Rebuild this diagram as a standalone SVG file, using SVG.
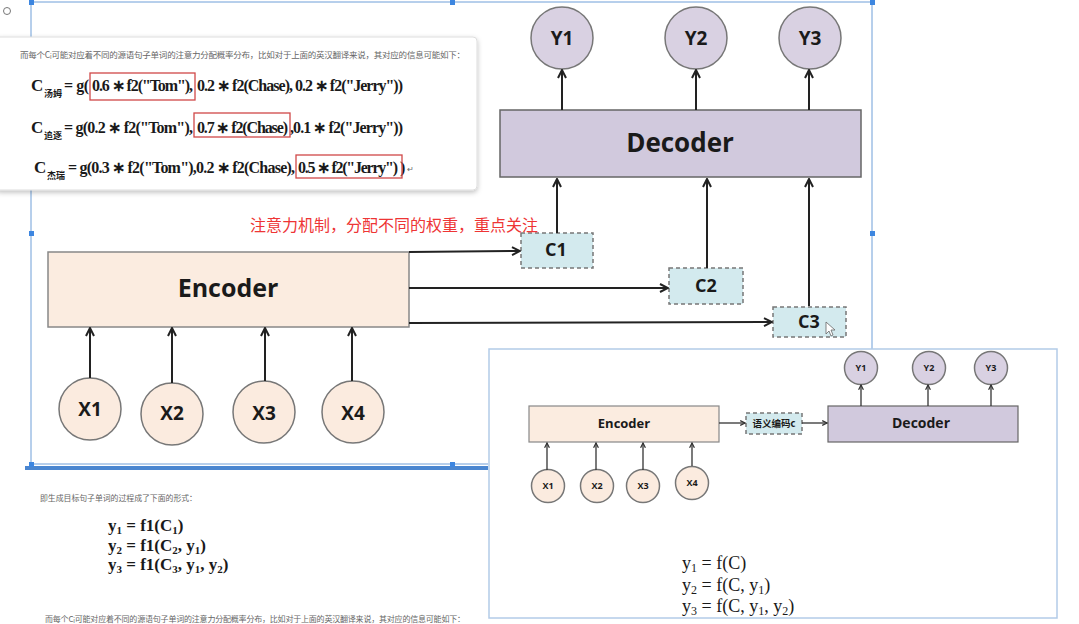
<svg xmlns="http://www.w3.org/2000/svg" width="1079" height="624" viewBox="0 0 1079 624">
<style>
.lbl{font-family:"Open Sans","Noto Sans",sans-serif;font-weight:bold;fill:#1a1a1a;text-anchor:middle}
.cjk{font-family:"Noto Sans CJK SC",sans-serif}
.note{font-family:"Noto Sans CJK SC",sans-serif;fill:#666}
.fm{font-family:"Liberation Serif","Noto Sans CJK SC",serif;font-weight:bold;fill:#1a1a1a}
.fr{font-family:"Liberation Serif","Noto Sans CJK SC",serif;fill:#1a1a1a}
.ycirc{fill:#d9d1e2;stroke:#777;stroke-width:1.5}
.xcirc{fill:#fbebdf;stroke:#777;stroke-width:1.5}
.cbox{fill:#d3eaee;stroke:#777;stroke-width:1.5;stroke-dasharray:4 3}
.conn{stroke:#222;stroke-width:2;fill:none;marker-end:url(#ah)}
.sconn{stroke:#333;stroke-width:1.3;fill:none;marker-end:url(#ahs)}
.red{fill:none;stroke:#d04848;stroke-width:1.3}
.sel{stroke:#6f9fd8;stroke-width:1;fill:none}
.hdl{fill:#3d86e0}
</style>
<defs>
<marker id="ah" viewBox="0 0 10 10" refX="9" refY="5" markerWidth="10" markerHeight="10" markerUnits="userSpaceOnUse" orient="auto">
<path d="M1,1 L9,5 L1,9" fill="none" stroke="#222" stroke-width="2"/>
</marker>
<marker id="ahs" viewBox="0 0 10 10" refX="9" refY="5" markerWidth="6" markerHeight="6" markerUnits="userSpaceOnUse" orient="auto">
<path d="M1,1 L9,5 L1,9" fill="none" stroke="#333" stroke-width="2"/>
</marker>
<filter id="sh" x="-5%" y="-10%" width="110%" height="125%">
<feDropShadow dx="0" dy="2" stdDeviation="2.5" flood-color="#000" flood-opacity="0.25"/>
</filter>
</defs>
<rect width="1079" height="624" fill="#ffffff"/>
<circle cx="7" cy="11" r="3.5" fill="none" stroke="#777" stroke-width="1"/>

<!-- selection frame -->
<g id="selection">
<path class="sel" d="M31,2 L872,2 L872,349 M31,2 L31,464 L488,464"/>
<rect x="25" y="466" width="463" height="4" fill="#4a86d0"/>
<rect class="hdl" x="29" y="0" width="5" height="5"/>
<rect class="hdl" x="450" y="0" width="5" height="5"/>
<rect class="hdl" x="870" y="0" width="5" height="5"/>
<rect class="hdl" x="29" y="231" width="5" height="5"/>
<rect class="hdl" x="870" y="231" width="5" height="5"/>
<rect class="hdl" x="29" y="462" width="5" height="5"/>
<rect class="hdl" x="450" y="462" width="5" height="5"/>
</g>

<!-- main diagram nodes -->
<g id="Y1"><circle class="ycirc" cx="562" cy="38" r="31"/><text class="lbl" x="562" y="45" font-size="19">Y1</text></g>
<g id="Y2"><circle class="ycirc" cx="696" cy="38" r="31"/><text class="lbl" x="696" y="45" font-size="19">Y2</text></g>
<g id="Y3"><circle class="ycirc" cx="810" cy="38" r="31"/><text class="lbl" x="810" y="45" font-size="19">Y3</text></g>
<g id="Decoder"><rect x="500" y="110" width="361" height="67" fill="#d1c9dd" stroke="#666" stroke-width="1.5"/><text class="lbl" x="680" y="152" font-size="26">Decoder</text></g>
<g id="Encoder"><rect x="48" y="252" width="361" height="75" fill="#fbece0" stroke="#888" stroke-width="1.5"/><text class="lbl" x="228" y="297" font-size="25">Encoder</text></g>
<g id="C1"><rect class="cbox" x="521" y="233" width="72" height="35"/><text class="lbl" x="556" y="256" font-size="18">C1</text></g>
<g id="C2"><rect class="cbox" x="669" y="268" width="74" height="36"/><text class="lbl" x="706" y="292" font-size="18">C2</text></g>
<g id="C3"><rect class="cbox" x="773" y="307" width="73" height="30"/><text class="lbl" x="809" y="328" font-size="18">C3</text>
<path d="M826,322 L826,334 L829,331 L831,336 L833,335 L831,330 L835,330 Z" fill="#fff" stroke="#666" stroke-width="0.8"/></g>
<g id="X1"><circle class="xcirc" cx="90" cy="409" r="31"/><text class="lbl" x="90" y="416" font-size="19">X1</text></g>
<g id="X2"><circle class="xcirc" cx="172" cy="414" r="31"/><text class="lbl" x="172" y="420" font-size="19">X2</text></g>
<g id="X3"><circle class="xcirc" cx="264" cy="412" r="31"/><text class="lbl" x="264" y="420" font-size="19">X3</text></g>
<g id="X4"><circle class="xcirc" cx="353" cy="412" r="31"/><text class="lbl" x="353" y="420" font-size="19">X4</text></g>

<g id="connectors">
<path class="conn" d="M90,378 L90,328"/>
<path class="conn" d="M172,383 L172,328"/>
<path class="conn" d="M265,381 L265,328"/>
<path class="conn" d="M352,381 L352,328"/>
<path class="conn" d="M409,252 L520,251"/>
<path class="conn" d="M409,288 L668,288"/>
<path class="conn" d="M409,323 L772,322"/>
<path class="conn" d="M557,233 L557,179"/>
<path class="conn" d="M707,268 L707,179"/>
<path class="conn" d="M809,306 L809,179"/>
<path class="conn" d="M562,110 L562,70"/>
<path class="conn" d="M696,110 L696,70"/>
<path class="conn" d="M809,110 L809,70"/>
</g>

<text class="cjk" x="250" y="231" font-size="16" fill="#ee3535" textLength="288">注意力机制，分配不同的权重，重点关注</text>

<!-- top-left formula card -->
<g id="formula-card">
<rect x="-4" y="37" width="481" height="153" rx="4" fill="#fff" stroke="#ddd" stroke-width="1" filter="url(#sh)"/>
<text class="note" x="20" y="58" font-size="8.5" textLength="445">而每个C<tspan font-size="6" dy="1">i</tspan><tspan dy="-1">可能对应着不同的源语句子单词的注意力分配概率分布，比如对于上面的英汉翻译来说，其对应的信息可能如下：</tspan></text>
<text class="fm" x="31" y="91" font-size="17">C</text><text class="fm" x="44" y="97" font-size="9">汤姆</text>
<text class="fm" x="64" y="91" font-size="16" textLength="25">= g(</text>
<text class="fm" x="92" y="91" font-size="16" textLength="101">0.6 ∗ f2("Tom"),</text>
<text class="fm" x="197" y="91" font-size="16" textLength="96">0.2 ∗ f2(Chase),</text>
<text class="fm" x="295" y="91" font-size="16" textLength="108">0.2 ∗ f2("Jerry"))</text>
<rect class="red" x="90" y="73" width="105" height="27"/>

<text class="fm" x="31" y="133" font-size="17">C</text><text class="fm" x="44" y="139" font-size="9">追逐</text>
<text class="fm" x="64" y="133" font-size="16" textLength="129">= g(0.2 ∗ f2("Tom"),</text>
<text class="fm" x="197" y="133" font-size="16" textLength="91">0.7 ∗ f2(Chase)</text>
<text class="fm" x="290" y="133" font-size="16" textLength="113">,0.1 ∗ f2("Jerry"))</text>
<rect class="red" x="194" y="113" width="96" height="24"/>

<text class="fm" x="34" y="173" font-size="17">C</text><text class="fm" x="47" y="179" font-size="9">杰瑞</text>
<text class="fm" x="68" y="173" font-size="16" textLength="227">= g(0.3 ∗ f2("Tom"),0.2 ∗ f2(Chase),</text>
<text class="fm" x="298" y="173" font-size="16" textLength="100">0.5 ∗ f2("Jerry")</text>
<text class="fm" x="400" y="173" font-size="16">)</text>
<rect class="red" x="296" y="155" width="106" height="23"/>
<text class="note" x="407" y="172" font-size="8">↵</text>
</g>

<!-- lower-left text -->
<g id="lower-left">
<text class="note" x="40" y="501" font-size="7.9" textLength="157">即生成目标句子单词的过程成了下面的形式：</text>
<text class="fm" x="108" y="531" font-size="17">y<tspan font-size="11" dy="3">1</tspan><tspan dy="-3"> = f1(C</tspan><tspan font-size="11" dy="3">1</tspan><tspan dy="-3">)</tspan></text>
<text class="fm" x="108" y="551" font-size="17">y<tspan font-size="11" dy="3">2</tspan><tspan dy="-3"> = f1(C</tspan><tspan font-size="11" dy="3">2</tspan><tspan dy="-3">, y</tspan><tspan font-size="11" dy="3">1</tspan><tspan dy="-3">)</tspan></text>
<text class="fm" x="108" y="570" font-size="17">y<tspan font-size="11" dy="3">3</tspan><tspan dy="-3"> = f1(C</tspan><tspan font-size="11" dy="3">3</tspan><tspan dy="-3">, y</tspan><tspan font-size="11" dy="3">1</tspan><tspan dy="-3">, y</tspan><tspan font-size="11" dy="3">2</tspan><tspan dy="-3">)</tspan></text>
<text class="note" x="45" y="622" font-size="8" textLength="420">而每个C<tspan font-size="6" dy="1">i</tspan><tspan dy="-1">可能对应着不同的源语句子单词的注意力分配概率分布，比如对于上面的英汉翻译来说，其对应的信息可能如下：</tspan></text>
</g>

<!-- lower-right panel -->
<g id="panel">
<rect x="489" y="349" width="568" height="269" fill="#fff" stroke="#b3cbe8" stroke-width="1.5"/>
</g>
<g id="sY1"><circle class="ycirc" cx="861" cy="368" r="16.5" stroke-width="1"/><text class="lbl" x="861" y="371" font-size="9">Y1</text></g>
<g id="sY2"><circle class="ycirc" cx="929" cy="368" r="16.5" stroke-width="1"/><text class="lbl" x="929" y="371" font-size="9">Y2</text></g>
<g id="sY3"><circle class="ycirc" cx="991" cy="368" r="16.5" stroke-width="1"/><text class="lbl" x="991" y="371" font-size="9">Y3</text></g>
<g id="sEncoder"><rect x="529" y="406" width="190" height="36" fill="#fbece0" stroke="#888" stroke-width="1.2"/><text class="lbl" x="624" y="428" font-size="13">Encoder</text></g>
<g id="sC"><rect class="cbox" x="746" y="413" width="56" height="21" stroke-width="1" stroke-dasharray="3 2"/><text class="lbl cjk" x="774" y="427" font-size="9.5">语义编码c</text></g>
<g id="sDecoder"><rect x="828" y="406" width="190" height="36" fill="#d1c9dd" stroke="#666" stroke-width="1.2"/><text class="lbl" x="921" y="428" font-size="14">Decoder</text></g>
<g id="sX1"><circle class="xcirc" cx="548" cy="486" r="16.5" stroke-width="1"/><text class="lbl" x="548" y="489" font-size="9">X1</text></g>
<g id="sX2"><circle class="xcirc" cx="597" cy="486" r="16.5" stroke-width="1"/><text class="lbl" x="597" y="489" font-size="9">X2</text></g>
<g id="sX3"><circle class="xcirc" cx="643" cy="486" r="16.5" stroke-width="1"/><text class="lbl" x="643" y="489" font-size="9">X3</text></g>
<g id="sX4"><circle class="xcirc" cx="692" cy="483" r="16.5" stroke-width="1"/><text class="lbl" x="692" y="486" font-size="9">X4</text></g>
<g id="small-connectors">
<path class="sconn" d="M547,470 L547,443"/>
<path class="sconn" d="M596,470 L596,443"/>
<path class="sconn" d="M643,470 L643,443"/>
<path class="sconn" d="M692,466 L692,443"/>
<path class="sconn" d="M719,423 L745,423"/>
<path class="sconn" d="M802,423 L827,423"/>
<path class="sconn" d="M861,406 L861,385"/>
<path class="sconn" d="M928,406 L928,385"/>
<path class="sconn" d="M991,406 L991,385"/>
</g>
<g id="right-formulas">
<text class="fr" x="682" y="569" font-size="18">y<tspan font-size="12" dy="3">1</tspan><tspan dy="-3"> = f(C)</tspan></text>
<text class="fr" x="682" y="591" font-size="18">y<tspan font-size="12" dy="3">2</tspan><tspan dy="-3"> = f(C, y</tspan><tspan font-size="12" dy="3">1</tspan><tspan dy="-3">)</tspan></text>
<text class="fr" x="682" y="612" font-size="18">y<tspan font-size="12" dy="3">3</tspan><tspan dy="-3"> = f(C, y</tspan><tspan font-size="12" dy="3">1</tspan><tspan dy="-3">, y</tspan><tspan font-size="12" dy="3">2</tspan><tspan dy="-3">)</tspan></text>
</g>
</svg>
